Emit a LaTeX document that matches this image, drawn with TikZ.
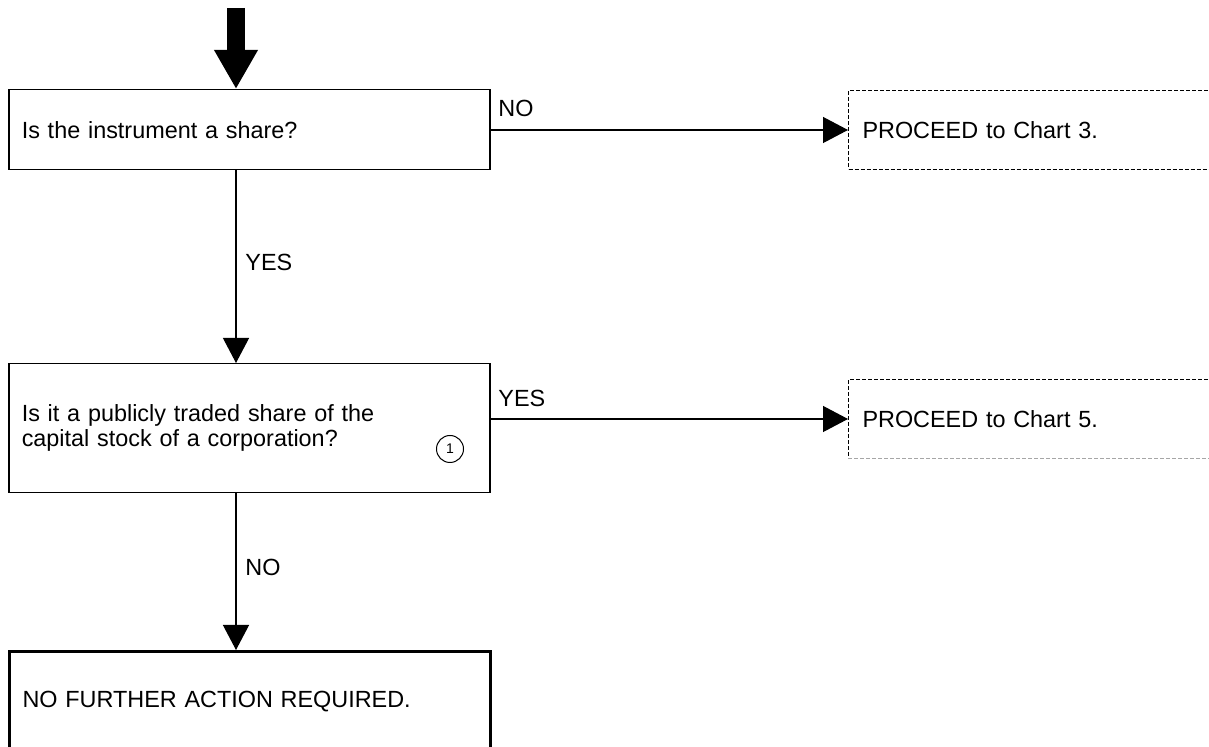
\documentclass[tikz,border=0pt]{standalone}
\usepackage{fontspec}
\setmainfont{Liberation Sans}
\usetikzlibrary{arrows.meta}
\tikzset{
  qbox/.style={draw,line width=.75pt,align=left,anchor=north west,
    inner xsep=6.5pt,inner ysep=0pt,text width=227.5pt,minimum height=#1},
  endbox/.style={qbox=50pt,line width=1.5pt},
  gobox/.style={draw,dashed,dash pattern=on 2pt off 1pt,line width=.5pt,anchor=north west,
    align=left,inner xsep=7pt,text width=200pt,minimum height=39.5pt},
  lbl/.style={inner sep=0pt,anchor=west},
  flow/.style={line width=.6pt,-{Triangle[length=12.5pt,width=13pt]}},
}
\begin{document}
\begin{tikzpicture}[x=.5pt,y=-.5pt,font=\fontsize{11.7}{12.5}\selectfont]
\clip (0,0) rectangle (1209,747);
\fill[white] (0,0) rectangle (1209,747);
%
\coordinate (start) at (236,8);
\node[qbox=40pt] (q1) at (8,89) {Is the instrument a share?};
\node[qbox=64.5pt] (q2) at (8,363) {Is it a publicly traded share of the\\capital stock of a corporation?};
\node[endbox] (done) at (8,650) {NO FURTHER ACTION REQUIRED.};
\node[gobox] (p1) at (848,90) {PROCEED to Chart 3.};
\node[gobox] (p2) at (848,379) {PROCEED to Chart 5.};
\draw[white,line width=1pt] (p2.south west) ++(1,0) -- (p2.south east);
\draw[gray!70,dash pattern=on 2pt off 1pt,line width=.5pt] (p2.south west) -- (p2.south east);
\node[draw,circle,line width=.5pt,minimum size=13.5pt,inner sep=0pt,font=\fontsize{7}{7}\selectfont] (n1) at (450,449) {1};
%
\draw[line width=9pt,-{Triangle[length=19.5pt,width=20.5pt]}] (start) -- (q1.north -| start);
\draw[flow] (q1.east |- p1.west) -- (p1.west);
\draw[flow] (q2.east |- p2.west) -- (p2.west);
\draw[flow] (q1.south -| start) -- (q2.north -| start);
\draw[flow] (q2.south -| start) -- (done.north -| start);
%
\node[lbl] (no1) at (498,108) {NO};
\node[lbl] (yes1) at (245,262) {YES};
\node[lbl] (yes2) at (498,398) {YES};
\node[lbl] (no2) at (245,567) {NO};
\end{tikzpicture}
\end{document}
